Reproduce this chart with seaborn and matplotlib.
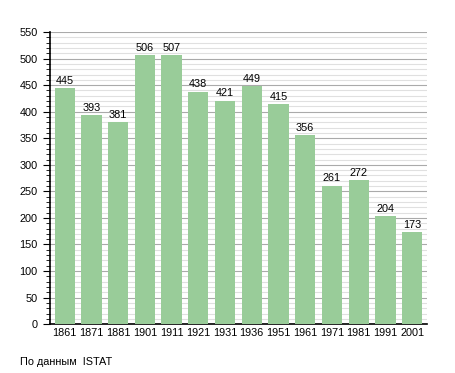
import matplotlib
matplotlib.use('Agg')
import matplotlib.pyplot as plt
import seaborn as sns
import pandas as pd
from matplotlib.ticker import MultipleLocator

# Population data
years = ['1861', '1871', '1881', '1901', '1911', '1921', '1931',
         '1936', '1951', '1961', '1971', '1981', '1991', '2001']
population = [445, 393, 381, 506, 507, 438, 421, 449, 415, 356, 261, 272, 204, 173]

df = pd.DataFrame({'year': years, 'population': population})

sns.set_style('white')
plt.rcParams['font.family'] = ['Liberation Sans', 'DejaVu Sans']
plt.rcParams['text.color'] = 'black'
plt.rcParams['xtick.color'] = 'black'
plt.rcParams['ytick.color'] = 'black'

fig = plt.figure(figsize=(4.55, 3.73), dpi=100)
ax = fig.add_axes([0.11, 0.131, 0.828, 0.783])

sns.barplot(data=df, x='year', y='population', color='#99cc99',
            saturation=1, width=0.76, linewidth=0, edgecolor='none',
            ax=ax, zorder=3)

ax.set_ylim(0, 550)
ax.set_xlim(-0.55, len(years) - 0.45)
ax.yaxis.set_major_locator(MultipleLocator(50))
ax.yaxis.set_minor_locator(MultipleLocator(10))
ax.grid(axis='y', which='major', color='#aaaaaa', linewidth=0.8, zorder=0)
ax.grid(axis='y', which='minor', color='#e0e0e0', linewidth=0.8, zorder=0)
ax.set_axisbelow(True)

for s in ['top', 'right']:
    ax.spines[s].set_visible(False)
for s in ['left', 'bottom']:
    ax.spines[s].set_color('black')
    ax.spines[s].set_linewidth(1.2)

ax.tick_params(axis='y', which='major', length=5, width=0.8, labelsize=7.8, left=True, pad=4)
ax.tick_params(axis='y', which='minor', length=3, width=0.6, left=True)
ax.tick_params(axis='x', length=0, labelsize=7.8, pad=3)
ax.set_xlabel('')
ax.set_ylabel('')

for i, v in enumerate(population):
    ax.text(i, v + 4, str(v), ha='center', va='bottom', fontsize=7.8)

fig.text(20 / 455, 1 - 362 / 373, 'По данным  ISTAT', fontsize=7.8, va='center')

fig.savefig('out.png', dpi=100, facecolor='white')
